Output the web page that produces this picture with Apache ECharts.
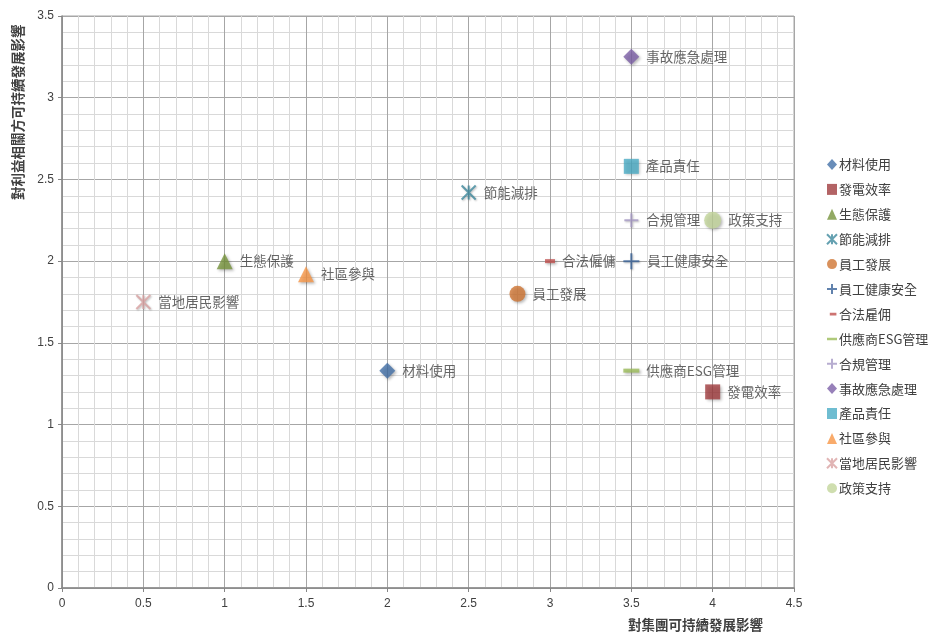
<!DOCTYPE html>
<html>
<head>
<meta charset="utf-8">
<script src="https://cdn.jsdelivr.net/npm/echarts@6/dist/echarts.min.js"></script>
<style>
html,body{margin:0;padding:0;background:#fff;}
#c{width:931px;height:635px;}
</style>
</head>
<body>
<div id="c"></div>
<script>
// ---- data ----
const names = ['材料使用','發電效率','生態保護','節能減排','員工發展','員工健康安全','合法雇佣','供應商ESG管理','合規管理','事故應急處理','產品責任','社區參與','當地居民影響','政策支持'];
const pointLabels = ['材料使用','發電效率','生態保護','節能減排','員工發展','員工健康安全','合法僱傭','供應商ESG管理','合規管理','事故應急處理','產品責任','社區參與','當地居民影響','政策支持'];
const groupImpact = [2, 4, 1, 2.5, 2.8, 3.5, 3, 3.5, 3.5, 3.5, 3.5, 1.5, 0.5, 4];
const stakeholderImpact = [1.33, 1.2, 2, 2.42, 1.8, 2, 2, 1.33, 2.25, 3.25, 2.58, 1.92, 1.75, 2.25];
const xTicks = [0, 0.5, 1, 1.5, 2, 2.5, 3, 3.5, 4, 4.5];
const yTicks = [0, 0.5, 1, 1.5, 2, 2.5, 3, 3.5];

// ---- styles ----
const colors = ['#4370A8','#A03C3E','#77933C','#3E8A9E','#CF7633','#3A6399','#C0504D','#9BBB59','#A598C4','#7D60A7','#4BACC6','#F79646','#D9A2A2','#C3D69B'];
const xPath = 'path://M0,0L10,10M10,0L0,10M5,0L5,10';
const plusPath = 'path://M5,0L5,10M0,5L10,5';
const symbols = ['diamond','rect','triangle',xPath,'circle',plusPath,'rect','rect',plusPath,'diamond','rect','triangle',xPath,'circle'];
const shortDash = 'path://M0,0L0.01,0M0,10L0.01,10M2,4L8,4L8,6.5L2,6.5Z';
const longDash = 'path://M0,0L0.01,0M0,10L0.01,10M0,4L10,4L10,6.5L0,6.5Z';
const legendIcons = ['diamond','rect','triangle',xPath,'circle',plusPath,shortDash,longDash,plusPath,'diamond','rect','triangle',xPath,'circle'];
const sizes = [16,15,16,14,16,16,[10,4],[16,4],14,16,15,16,14,17];
const strokeOnly = [false,false,false,true,false,true,false,false,true,false,false,false,true,false];

const font = '"Noto Sans CJK TC","Noto Sans",sans-serif';
const numFont = '"Liberation Sans Narrow","Liberation Sans","DejaVu Sans Condensed",sans-serif';

const series = names.map((n,i)=>{
  const st = strokeOnly[i];
  return {
    name: n,
    type: 'scatter',
    symbol: symbols[i],
    symbolSize: sizes[i],
    data: [[groupImpact[i], stakeholderImpact[i]]],
    itemStyle: st ? {color: colors[i], borderColor: colors[i], borderWidth: 2, shadowBlur: 2, shadowColor:'rgba(0,0,0,0.3)', shadowOffsetX:1, shadowOffsetY:1}
                  : {color: colors[i], shadowBlur: 3, shadowColor:'rgba(0,0,0,0.35)', shadowOffsetX:1.5, shadowOffsetY:1.5},
    label: {show: true, position: 'right', distance: 7, formatter: pointLabels[i], color: '#404040', fontSize: 13.5, fontFamily: font},
    emphasis: {disabled: true}
  };
});

const chart = echarts.init(document.getElementById('c'), null, {renderer:'canvas'});
chart.setOption({
  animation: false,
  backgroundColor: '#fff',
  grid: {left: 62, right: 137, top: 16, bottom: 47, show: true, borderColor: '#A6A6A6', borderWidth: 1},
  xAxis: {
    type: 'value', min: xTicks[0], max: xTicks[xTicks.length-1], interval: 0.5,
    axisLine: {show: true, onZero: false, lineStyle: {color: '#868686', width: 1.5}},
    axisTick: {show: true, length: 4, lineStyle: {color: '#868686'}},
    axisLabel: {color: '#404040', fontSize: 12, fontFamily: numFont, margin: 10, formatter: v => String(v)},
    splitLine: {show: true, lineStyle: {color: '#A6A6A6', width: 1}},
    minorTick: {show: false, splitNumber: 5},
    minorSplitLine: {show: true, lineStyle: {color: '#D9D9D9', width: 1}}
  },
  yAxis: {
    type: 'value', min: yTicks[0], max: yTicks[yTicks.length-1], interval: 0.5,
    axisLine: {show: true, onZero: false, lineStyle: {color: '#868686', width: 1.5}},
    axisTick: {show: true, length: 4, lineStyle: {color: '#868686'}},
    axisLabel: {color: '#404040', fontSize: 12, fontFamily: numFont, margin: 8, formatter: v => String(v)},
    splitLine: {show: true, lineStyle: {color: '#A6A6A6', width: 1}},
    minorTick: {show: false, splitNumber: 5},
    minorSplitLine: {show: true, lineStyle: {color: '#D9D9D9', width: 1}}
  },
  legend: {
    orient: 'vertical', left: 821, top: 153, itemGap: 11.9, itemWidth: 10, itemHeight: 11,
    textStyle: {color: '#404040', fontSize: 13, fontFamily: font, padding: [0,0,0,-3]},
    data: names.map((n,i)=>({name: n, icon: legendIcons[i]})),
    selectedMode: false
  },
  graphic: [
    {type: 'text', left: 628, top: 618, style: {text: '對集團可持續發展影響', fill: '#404040', font: 'bold 13.5px ' + font}},
    {type: 'text', x: 11, y: 200, rotation: Math.PI/2, style: {text: '對利益相關方可持續發展影響', fill: '#404040', font: 'bold 13.5px ' + font}}
  ],
  series: series
});
</script>
</body>
</html>
